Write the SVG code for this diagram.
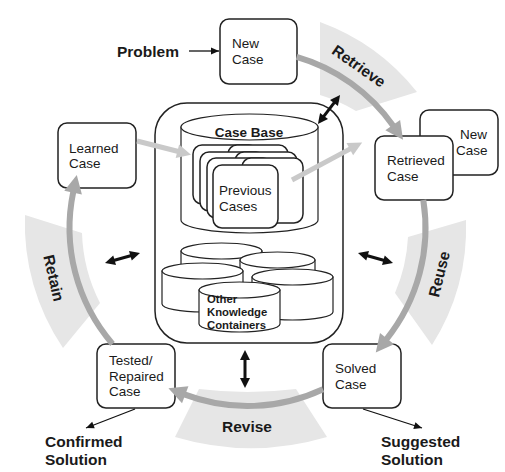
<svg xmlns="http://www.w3.org/2000/svg" width="505" height="472" viewBox="0 0 505 472">
<style>
.t{font-family:"Liberation Sans",Arial,sans-serif;font-size:13.5px;fill:#1a1a1a}
.b{font-family:"Liberation Sans",Arial,sans-serif;font-weight:bold;fill:#1a1a1a}
.box{fill:#fff;stroke:#222;stroke-width:1.5}
.cyl{fill:#fff;stroke:#222;stroke-width:1.2}
.band{fill:#e6e6e6;stroke:none}
.cyc{fill:none;stroke:#a8a8a8;stroke-width:6}
.lg{fill:none;stroke:#c9c9c9;stroke-width:5}
.dbl{fill:none;stroke:#111;stroke-width:3}
.thin{fill:none;stroke:#111;stroke-width:1.3}
</style>
<defs>
<marker id="hc" markerUnits="userSpaceOnUse" markerWidth="22" markerHeight="22" viewBox="0 -11 22 22" refX="1" refY="0" orient="auto" overflow="visible"><path d="M0,-9 L18,0 L0,9 Z" fill="#a8a8a8"/></marker>
<marker id="hl" markerUnits="userSpaceOnUse" markerWidth="18" markerHeight="18" viewBox="0 -9 18 18" refX="1" refY="0" orient="auto" overflow="visible"><path d="M0,-7 L14,0 L0,7 Z" fill="#c9c9c9"/></marker>
<marker id="hd" markerUnits="userSpaceOnUse" markerWidth="12" markerHeight="12" viewBox="0 -6 12 12" refX="2" refY="0" orient="auto-start-reverse" overflow="visible"><path d="M0,-5 L10,0 L0,5 Z" fill="#111"/></marker>
<marker id="ht" markerUnits="userSpaceOnUse" markerWidth="10" markerHeight="10" viewBox="0 -5 10 10" refX="8" refY="0" orient="auto" overflow="visible"><path d="M0,-3.5 L8,0 L0,3.5 Z" fill="#111"/></marker>
</defs>

<g id="bands">
<path class="band" d="M320,22 A220,220 0 0 1 417,92 L356,111 A158,158 0 0 0 320,95 Z"/>
<path class="band" d="M408,237 L466,220 A220,220 0 0 1 432,345 L395,293 A161,161 0 0 0 408,237 Z"/>
<path class="band" d="M175,437 A268,268 0 0 0 327,437 L296,389 A400,400 0 0 1 199,389 Z"/>
<path class="band" d="M25,215 L82,233 A165,165 0 0 0 100,303 L63,348 A222,222 0 0 1 25,215 Z"/>
<text class="b" font-size="15.5" text-anchor="middle" transform="translate(359,66) rotate(35)" x="0" y="5.5">Retrieve</text>
<text class="b" font-size="15.5" text-anchor="middle" transform="translate(439,274) rotate(-76)" x="0" y="5.5">Reuse</text>
<text class="b" font-size="15.5" text-anchor="middle" x="247" y="432">Revise</text>
<text class="b" font-size="15.5" text-anchor="middle" transform="translate(54,278) rotate(77)" x="0" y="5.5">Retain</text>
</g>

<g id="knowledge">
<rect class="box" x="155" y="103" width="188" height="240" rx="32"/>
<g id="case-base">
<path class="cyl" d="M181,127 L181,220 A68.5,13 0 0 0 318,220 L318,127 Z"/>
<ellipse class="cyl" cx="249.5" cy="127" rx="68.5" ry="13"/>
<text class="b" font-size="13.5" text-anchor="middle" x="249" y="137">Case Base</text>
</g>
<g id="previous-cases">
<rect class="box" x="193" y="145" width="65" height="59" rx="9"/>
<rect class="box" x="228" y="145" width="60" height="59" rx="9"/>
<rect class="box" x="200" y="152" width="65" height="59" rx="9"/>
<rect class="box" x="235" y="152" width="62" height="59" rx="9"/>
<rect class="box" x="207" y="158" width="65" height="60" rx="9"/>
<rect class="box" x="242" y="158" width="61" height="65" rx="9"/>
<rect class="box" x="213" y="165" width="65" height="63" rx="9"/>
<text class="t" x="219" y="195">Previous</text>
<text class="t" x="219" y="211">Cases</text>
</g>
<g id="other-containers">
<path class="cyl" d="M181,251 L181,300 A40.5,8 0 0 0 262,300 L262,251 Z"/>
<ellipse class="cyl" cx="221.5" cy="251" rx="40.5" ry="8"/>
<path class="cyl" d="M240,260 L240,305 A37.5,8 0 0 0 315,305 L315,260 Z"/>
<ellipse class="cyl" cx="277.5" cy="260" rx="37.5" ry="8"/>
<path class="cyl" d="M162,271 L162,304 A40.5,8 0 0 0 243,304 L243,271 Z"/>
<ellipse class="cyl" cx="202.5" cy="271" rx="40.5" ry="8"/>
<path class="cyl" d="M252,277 L252,312 A40.5,8 0 0 0 333,312 L333,277 Z"/>
<ellipse class="cyl" cx="292.5" cy="277" rx="40.5" ry="8"/>
<path class="cyl" d="M199,290 L199,324 A40.5,8 0 0 0 280,324 L280,290 Z"/>
<ellipse class="cyl" cx="239.5" cy="290" rx="40.5" ry="8"/>
<text class="b" font-size="11.3" x="207" y="303">Other</text>
<text class="b" font-size="11.3" x="207" y="316">Knowledge</text>
<text class="b" font-size="11.3" x="207" y="329">Containers</text>
</g>
</g>

<g id="new-case">
<rect class="box" x="220" y="19" width="77" height="65" rx="9"/>
<text class="t" x="232" y="48">New</text>
<text class="t" x="232" y="64">Case</text>
</g>
<g id="new-case-2">
<rect class="box" x="420" y="110" width="78" height="65" rx="9"/>
<text class="t" x="460" y="139">New</text>
<text class="t" x="456" y="155">Case</text>
</g>
<g id="retrieved-case">
<rect class="box" x="375" y="136" width="78" height="64" rx="9"/>
<text class="t" x="387" y="165">Retrieved</text>
<text class="t" x="387" y="181">Case</text>
</g>
<g id="solved-case">
<rect class="box" x="323" y="344" width="78" height="64" rx="9"/>
<text class="t" x="335" y="373">Solved</text>
<text class="t" x="335" y="389">Case</text>
</g>
<g id="tested-case">
<rect class="box" x="97" y="344" width="78" height="64" rx="9"/>
<text class="t" x="109" y="365">Tested/</text>
<text class="t" x="109" y="381">Repaired</text>
<text class="t" x="109" y="396">Case</text>
</g>
<g id="learned-case">
<rect class="box" x="58" y="123" width="78" height="65" rx="9"/>
<text class="t" x="69" y="153">Learned</text>
<text class="t" x="69" y="168">Case</text>
</g>
<g id="labels">
<text class="b" font-size="15.5" x="117" y="57">Problem</text>
<text class="b" font-size="15.5" x="45" y="447">Confirmed</text>
<text class="b" font-size="15.5" x="45" y="465">Solution</text>
<text class="b" font-size="15.5" x="381" y="447">Suggested</text>
<text class="b" font-size="15.5" x="381" y="465">Solution</text>
</g>

<g id="connectors">
<path class="cyc" marker-end="url(#hc)" d="M296.6,56.9 A178,178 0 0 1 393.3,125.9"/>
<path class="cyc" marker-end="url(#hc)" d="M423.3,200 A178,178 0 0 1 386.4,339.3"/>
<path class="cyc" marker-end="url(#hc)" d="M323,389.2 A178,178 0 0 1 184.3,394.4"/>
<path class="cyc" marker-end="url(#hc)" d="M112.5,344 A178,178 0 0 1 73.3,191.6"/>
<path class="lg" marker-end="url(#hl)" d="M137,141 L178.4,151.5"/>
<path class="lg" marker-end="url(#hl)" d="M292,180 L350.7,148.6"/>
<path class="dbl" marker-start="url(#hd)" marker-end="url(#hd)" d="M322.8,117.6 L335.2,101.4"/>
<path class="dbl" marker-start="url(#hd)" marker-end="url(#hd)" d="M112.7,260.8 L132.3,255.2"/>
<path class="dbl" marker-start="url(#hd)" marker-end="url(#hd)" d="M365.7,255.2 L385.3,260.8"/>
<path class="dbl" marker-start="url(#hd)" marker-end="url(#hd)" d="M245,358 L245,380"/>
<path class="thin" marker-end="url(#ht)" d="M189,51 L219,51"/>
<path class="thin" marker-end="url(#ht)" d="M135,409 L86,428"/>
<path class="thin" marker-end="url(#ht)" d="M363,409 L422,428"/>
</g>
</svg>
